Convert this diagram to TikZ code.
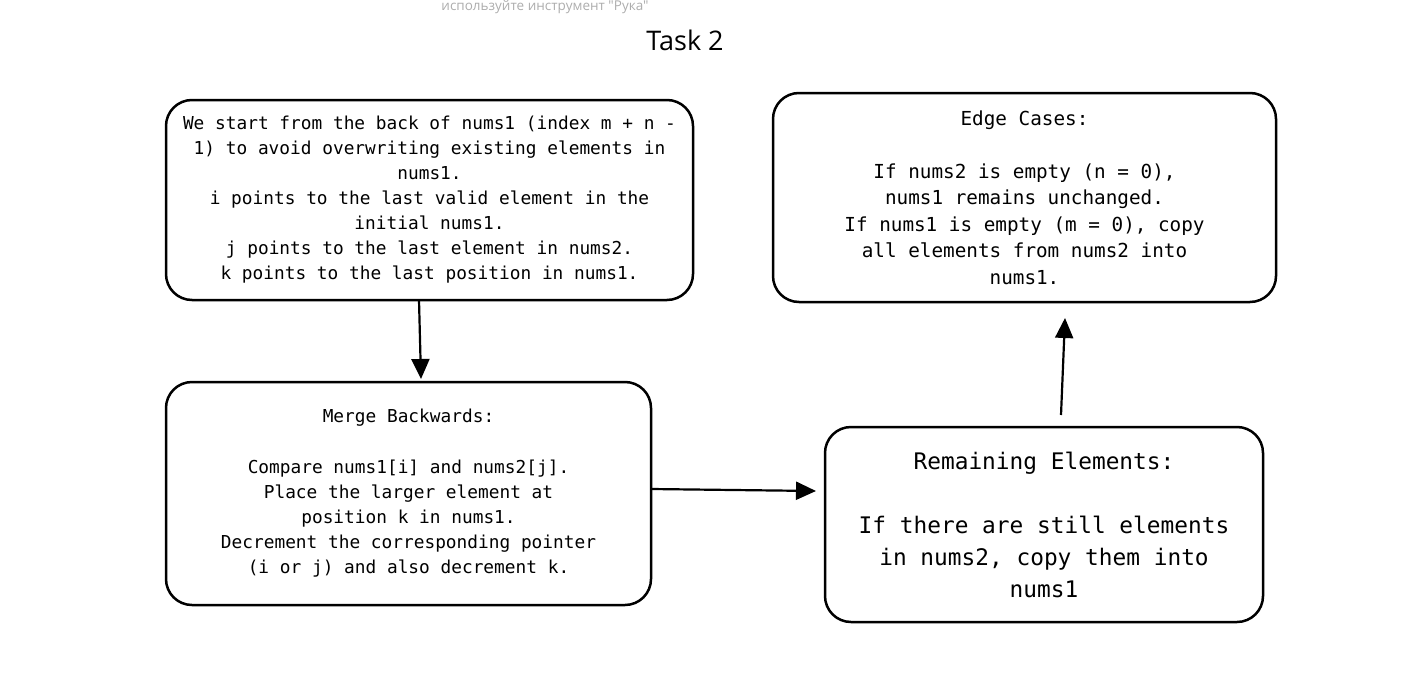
\documentclass[tikz,border=0pt]{standalone}
\usepackage{fontspec}
\setmonofont{DejaVu Sans Mono}
\newfontfamily\titlefont{Open Sans}
\newfontfamily\notefont{Open Sans}
\usetikzlibrary{arrows.meta}
\begin{document}
\begin{tikzpicture}[x=1pt,y=-1pt,
    box/.style={draw,line width=2.5pt,rounded corners=26pt,align=center,
      inner sep=0pt,font=\ttfamily\fontsize{17.8}{25}\selectfont},
    flow/.style={-{Triangle[length=20pt,width=18pt]},line width=2.2pt}]
  \useasboundingbox (0,0) rectangle (1412,693);
  \node[font=\notefont\fontsize{13.5}{16}\selectfont,text=black!32] (note) at (545,7) {используйте инструмент "Рука"};
  \node[font=\titlefont\fontsize{27}{30}\selectfont] (title) at (685,40) {Task 2};
  \node[box,minimum width=527pt,minimum height=200pt] (start) at (429.5,200)
    {We start from the back of nums1 (index m + n -\\
     1) to avoid overwriting existing elements in\\
     nums1.\\
     i points to the last valid element in the\\
     initial nums1.\\
     j points to the last element in nums2.\\
     k points to the last position in nums1.};
  \node[box,minimum width=503pt,minimum height=209pt,
    font=\ttfamily\fontsize{19.3}{26.5}\selectfont] (edge) at (1024.5,197.5)
    {Edge Cases:\\[26.5pt]
     If nums2 is empty (n = 0),\\
     nums1 remains unchanged.\\
     If nums1 is empty (m = 0), copy\\
     all elements from nums2 into\\
     nums1.};
  \node[box,minimum width=485pt,minimum height=223pt] (merge) at (408.5,493.5)
    {Merge Backwards:\\[26pt]
     Compare nums1[i] and nums2[j].\\
     Place the larger element at\\
     position k in nums1.\\
     Decrement the corresponding pointer\\
     (i or j) and also decrement k.};
  \node[box,minimum width=438pt,minimum height=195pt,
    font=\ttfamily\fontsize{22.8}{32}\selectfont] (rest) at (1044,524.5)
    {Remaining Elements:\\[32pt]
     If there are still elements\\
     in nums2, copy them into\\
     nums1};
  \coordinate (a1) at (419,300);
  \coordinate (a2) at (421,379);
  \coordinate (b1) at (651,489);
  \coordinate (b2) at (816,491);
  \coordinate (c1) at (1061,415);
  \coordinate (c2) at (1065,318);
  \draw[flow] (a1) -- (a2);
  \draw[flow] (b1) -- (b2);
  \draw[flow] (c1) -- (c2);
\end{tikzpicture}
\end{document}
